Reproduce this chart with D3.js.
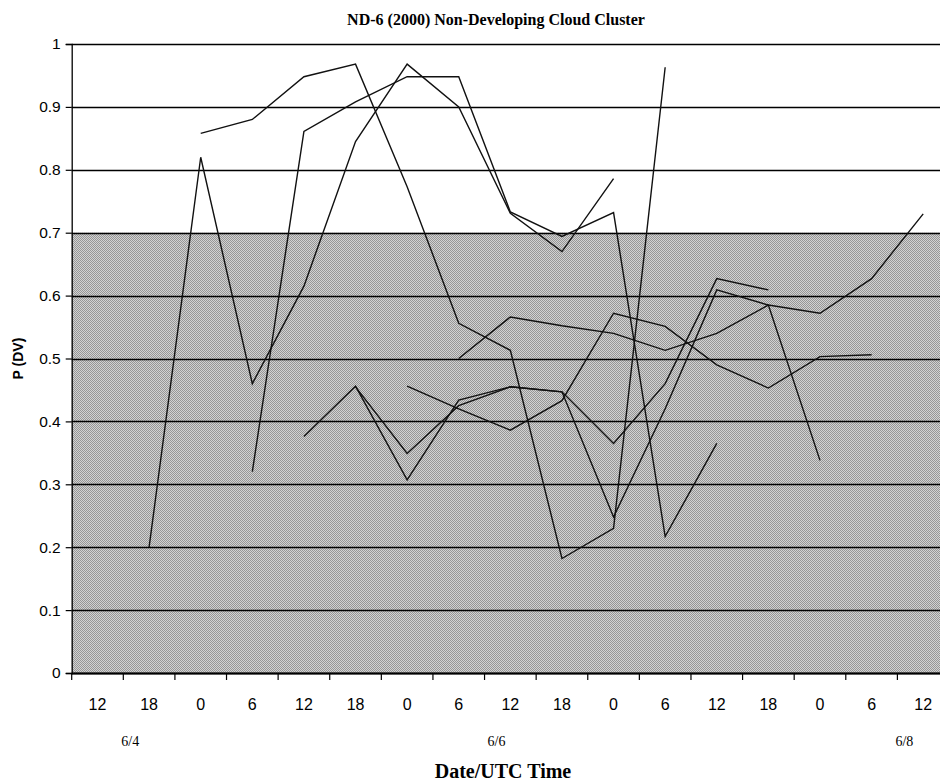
<!DOCTYPE html>
<html>
<head>
<meta charset="utf-8">
<script src="https://cdn.jsdelivr.net/npm/d3@7"></script>
<style>
  html, body { margin: 0; padding: 0; background: #fff; }
  svg { display: block; }
</style>
</head>
<body>
<svg id="chart" width="940" height="784"></svg>
<script>
// Six-hourly categories along the time axis
const categories = ["12","18","0","6","12","18","0","6","12","18","0","6","12","18","0","6","12"];

// Date markers under the hour labels (index = category the date begins at)
const dateLabels = [
  { text: "6/4", at: 1 },
  { text: "6/6", at: 8 },
  { text: "6/8", at: 16 }
];

const yTicks = [0, 0.1, 0.2, 0.3, 0.4, 0.5, 0.6, 0.7, 0.8, 0.9, 1];

// Probability of development from successive forecast runs (null = no value)
const run1 = [null, 0.20, 0.82, 0.46, 0.615, 0.845, 0.968, 0.90, 0.731, 0.67, 0.786, null, null, null, null, null, null];
const run2 = [null, null, 0.858, 0.88, 0.948, 0.968, 0.773, 0.556, 0.513, 0.182, 0.23, 0.963, null, null, null, null, null];
const run3 = [null, null, null, 0.32, 0.861, 0.908, 0.948, 0.948, 0.733, 0.694, 0.732, 0.217, 0.365, null, null, null, null];
const run4 = [null, null, null, null, 0.376, 0.456, 0.307, 0.434, 0.455, 0.447, 0.365, 0.46, 0.627, 0.609, null, null, null];
const run5 = [null, null, null, null, null, 0.455, 0.349, 0.425, 0.455, 0.447, 0.248, 0.42, 0.609, 0.585, 0.338, null, null];
const run6 = [null, null, null, null, null, null, 0.456, 0.42, 0.386, 0.433, 0.572, 0.551, 0.49, 0.453, 0.503, 0.506, null];
const run7 = [null, null, null, null, null, null, null, 0.50, 0.566, 0.552, 0.54, 0.513, 0.54, 0.585, 0.572, 0.627, 0.73];

const runs = [run1, run2, run3, run4, run5, run6, run7];

// Threshold below which the plot background is shaded
const threshold = 0.7;

const svg = d3.select("#chart");
const plotLeft = 71.7, plotRight = 949, plotTop = 44, plotBottom = 673;

const x = d3.scaleBand()
  .domain(d3.range(categories.length))
  .range([plotLeft, plotRight])
  .padding(0);

const y = d3.scaleLinear().domain([0, 1]).range([plotBottom, plotTop]);

// Dithered grey fill
const defs = svg.append("defs");
const pat = defs.append("pattern")
  .attr("id", "dither")
  .attr("patternUnits", "userSpaceOnUse")
  .attr("width", 2).attr("height", 2);
pat.append("rect").attr("width", 2).attr("height", 2).attr("fill", "#d2d2d2");
pat.append("rect").attr("x", 0).attr("y", 0).attr("width", 1).attr("height", 1).attr("fill", "#969696");
pat.append("rect").attr("x", 1).attr("y", 1).attr("width", 1).attr("height", 1).attr("fill", "#969696");

svg.append("rect")
  .attr("x", plotLeft)
  .attr("y", y(threshold))
  .attr("width", plotRight - plotLeft)
  .attr("height", y(0) - y(threshold))
  .attr("fill", "url(#dither)");

// Horizontal gridlines
svg.append("g")
  .selectAll("line")
  .data(yTicks)
  .join("line")
  .attr("x1", plotLeft)
  .attr("x2", plotRight)
  .attr("y1", d => Math.round(y(d)) + 0.5)
  .attr("y2", d => Math.round(y(d)) + 0.5)
  .attr("stroke", "#000")
  .attr("stroke-width", 1.3);

// Y axis
const yAxis = svg.append("g")
  .attr("transform", `translate(${plotLeft},0)`)
  .call(d3.axisLeft(y).tickValues(yTicks).tickSize(6).tickPadding(5)
    .tickFormat(d => d === 0 || d === 1 ? String(d) : d3.format(".1f")(d)));
yAxis.select(".domain").attr("stroke", "#000").attr("stroke-width", 1.3);
yAxis.selectAll(".tick line").attr("stroke", "#000").attr("stroke-width", 1.2);
yAxis.selectAll(".tick text")
  .attr("font-family", "'Liberation Sans', Arial, sans-serif")
  .attr("font-size", 15.5)
  .attr("fill", "#000");

// X axis: ticks between categories, labels at the centres
const xAxisG = svg.append("g").attr("transform", `translate(0,${plotBottom})`);
xAxisG.append("line")
  .attr("x1", plotLeft).attr("x2", plotRight)
  .attr("y1", 0.5).attr("y2", 0.5)
  .attr("stroke", "#000").attr("stroke-width", 1.8);
xAxisG.selectAll("line.tk")
  .data(d3.range(categories.length + 1))
  .join("line")
  .attr("class", "tk")
  .attr("x1", i => i < categories.length ? x(i) : plotRight)
  .attr("x2", i => i < categories.length ? x(i) : plotRight)
  .attr("y1", 0).attr("y2", 7)
  .attr("stroke", "#000").attr("stroke-width", 1.2);
xAxisG.selectAll("text")
  .data(categories)
  .join("text")
  .attr("x", (d, i) => x(i) + x.bandwidth() / 2)
  .attr("y", 37)
  .attr("text-anchor", "middle")
  .attr("font-family", "'Liberation Sans', Arial, sans-serif")
  .attr("font-size", 16)
  .attr("fill", "#000")
  .text(d => d);

// Date labels, set just past the start of their category
svg.append("g")
  .selectAll("text")
  .data(dateLabels)
  .join("text")
  .attr("x", d => x(d.at) + (d.at === 8 ? 12 : 7))
  .attr("y", plotBottom + 73)
  .attr("text-anchor", "middle")
  .attr("font-family", "'Liberation Serif', 'Times New Roman', serif")
  .attr("font-size", 14)
  .attr("fill", "#000")
  .text(d => d.text);

// Forecast lines
const line = d3.line()
  .defined(d => d != null)
  .x((d, i) => x(i) + x.bandwidth() / 2)
  .y(d => y(d));

svg.append("g")
  .selectAll("path")
  .data(runs)
  .join("path")
  .attr("d", line)
  .attr("fill", "none")
  .attr("stroke", "#111")
  .attr("stroke-width", 1.4)
  .attr("stroke-linejoin", "miter");

// Titles
svg.append("text")
  .attr("x", 496)
  .attr("y", 25)
  .attr("text-anchor", "middle")
  .attr("font-family", "'Liberation Serif', 'Times New Roman', serif")
  .attr("font-weight", "bold")
  .attr("font-size", 16)
  .text("ND-6 (2000) Non-Developing Cloud Cluster");

svg.append("text")
  .attr("x", 503)
  .attr("y", 778)
  .attr("text-anchor", "middle")
  .attr("font-family", "'Liberation Serif', 'Times New Roman', serif")
  .attr("font-weight", "bold")
  .attr("font-size", 20)
  .text("Date/UTC Time");

svg.append("text")
  .attr("transform", `translate(23,${(plotTop + plotBottom) / 2}) rotate(-90)`)
  .attr("text-anchor", "middle")
  .attr("font-family", "'Liberation Sans', Arial, sans-serif")
  .attr("font-weight", "bold")
  .attr("font-size", 14)
  .text("P (DV)");
</script>
</body>
</html>
